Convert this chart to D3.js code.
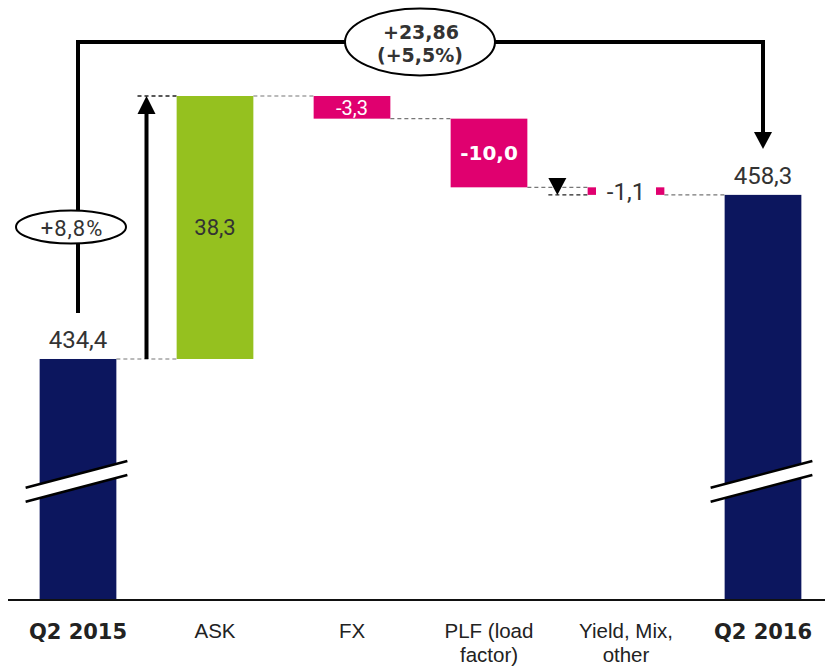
<!DOCTYPE html>
<html><head><meta charset="utf-8">
<script src="https://cdn.jsdelivr.net/npm/d3@7"></script>
<style>body{margin:0;background:#fff}</style>
</head><body><svg id="c" width="825" height="669"></svg>
<script>
const categories = ["Q2 2015","ASK","FX","PLF (load factor)","Yield, Mix, other","Q2 2016"];
const categoryLines = [["Q2 2015"],["ASK"],["FX"],["PLF (load","factor)"],["Yield, Mix,","other"],["Q2 2016"]];
const values = [434.4, 38.3, -3.3, -10.0, -1.1, 458.3];
const kinds = ["total","delta","delta","delta","delta","total"];
const valueLabels = ["434,4","38,3","-3,3","-10,0","-1,1","458,3"];
const totalChangeLabel = ["+23,86","(+5,5%)"];
const askChangeLabel = "+8,8%";
const yDomain = [399.3, 472.7];

const NAVY = "#0c165e", GREEN = "#95c11f", PINK = "#e0006f", TXT = "#333";
const BOLDF = "DejaVu Sans";
const svg = d3.select("#c");
const x = d3.scaleBand().domain(categories).range([9.5, 831.5]).paddingInner(0.44).paddingOuter(0.22);
const y = d3.scaleLinear().domain(yDomain).range([600, 96]);
const bw = x.bandwidth();

let run = 0;
const bars = categories.map((c, i) => {
  let y0, y1;
  if (kinds[i] === "total") { y0 = yDomain[0]; y1 = values[i]; run = values[i]; }
  else { y0 = run; y1 = run + values[i]; run = y1; }
  return {c, i, y0, y1, lo: Math.min(y0, y1), hi: Math.max(y0, y1), v: values[i], kind: kinds[i]};
});
const color = d => d.kind === "total" ? NAVY : (d.v >= 0 ? GREEN : PINK);
const cx = c => x(c) + bw / 2;

// connectors (dashed)
const conn = svg.append("g").attr("stroke", "#777").attr("stroke-width", 1.2).attr("stroke-dasharray", "4,3");
for (let i = 0; i < bars.length - 1; i++) {
  const a = bars[i], b = bars[i + 1];
  conn.append("line").attr("x1", x(a.c) + bw).attr("x2", x(b.c)).attr("y1", y(a.y1)).attr("y2", y(a.y1));
}
const upX = (x(categories[0]) + bw + x(categories[1])) / 2;
const askTop = bars[1].hi;
svg.append("line").attr("x1", upX - 9).attr("x2", x(categories[1])).attr("y1", y(askTop)).attr("y2", y(askTop))
  .attr("stroke", "#222").attr("stroke-width", 1.3).attr("stroke-dasharray", "4,3");
const yb = bars[4];
const triX = x(categories[3]) + bw + 30;
svg.append("line").attr("x1", triX - 9).attr("x2", x(yb.c)).attr("y1", y(yb.lo)).attr("y2", y(yb.lo))
  .attr("stroke", "#222").attr("stroke-width", 1.3).attr("stroke-dasharray", "4,3");

// bars
svg.append("g").selectAll("rect").data(bars).join("rect")
  .attr("x", d => x(d.c)).attr("width", bw)
  .attr("y", d => y(d.hi)).attr("height", d => y(d.lo) - y(d.hi))
  .attr("fill", color);

// small down triangle
svg.append("path").attr("d", `M${triX - 9},${y(yb.lo) - 17} L${triX + 9},${y(yb.lo) - 17} L${triX},${y(yb.lo)} Z`).attr("fill", "#000");

// axis line
const axis = svg.append("g").attr("transform", `translate(0,${y(yDomain[0])})`)
  .call(d3.axisBottom(x).tickSize(0).tickSizeOuter(0).tickFormat(() => ""));
axis.selectAll(".tick").remove();
axis.select(".domain").attr("stroke", "#111").attr("stroke-width", 2).attr("d", "M8,0H825");

// break marks on totals
bars.filter(d => d.kind === "total").forEach(d => {
  const x0 = x(d.c) - 14, x1 = x(d.c) + bw + 11;
  const yc = y(yDomain[0]) - 126, slope = -27 / 103;
  const ya = yc - slope * (cx(d.c) - x0), yb2 = yc + slope * (x1 - cx(d.c));
  const g = svg.append("g");
  g.append("path").attr("d", `M${x0},${ya} L${x1},${yb2} L${x1},${yb2 + 14} L${x0},${ya + 14} Z`).attr("fill", "#fff");
  g.append("line").attr("x1", x0).attr("y1", ya).attr("x2", x1).attr("y2", yb2).attr("stroke", "#000").attr("stroke-width", 2.6);
  g.append("line").attr("x1", x0).attr("y1", ya + 14).attr("x2", x1).attr("y2", yb2 + 14).attr("stroke", "#000").attr("stroke-width", 2.6);
});

// up arrow
svg.append("line").attr("x1", upX).attr("x2", upX).attr("y1", y(bars[0].y1)).attr("y2", y(askTop) + 16)
  .attr("stroke", "#000").attr("stroke-width", 4);
svg.append("path").attr("d", `M${upX - 9},${y(askTop) + 18} L${upX + 9},${y(askTop) + 18} L${upX},${y(askTop)} Z`).attr("fill", "#000");

// top bracket
const lx = cx(categories[0]), rx = cx(categories[5]);
const topY = 42;
svg.append("path").attr("d", `M${lx},313 V${topY} H${rx} V134`).attr("fill", "none").attr("stroke", "#000").attr("stroke-width", 4);
svg.append("path").attr("d", `M${rx - 9},132 L${rx + 9},132 L${rx},149 Z`).attr("fill", "#000");

// ellipses
svg.append("ellipse").attr("cx", 71).attr("cy", 227).attr("rx", 55).attr("ry", 16.5)
  .attr("fill", "#fff").attr("stroke", "#000").attr("stroke-width", 2);
svg.append("text").attr("x", 72).attr("y", 228).attr("dy", "0.36em").attr("text-anchor", "middle")
  .attr("font-family", "Roboto").attr("font-size", 22).attr("letter-spacing", 1).attr("fill", TXT).text(askChangeLabel);
svg.append("ellipse").attr("cx", 420).attr("cy", topY).attr("rx", 75).attr("ry", 33.5)
  .attr("fill", "#fff").attr("stroke", "#000").attr("stroke-width", 2);
svg.append("text").attr("x", 421).attr("y", 32).attr("dy", "0.36em").attr("text-anchor", "middle")
  .attr("font-family", BOLDF).attr("font-weight", 700).attr("font-size", 19).attr("fill", TXT).text(totalChangeLabel[0]);
svg.append("text").attr("x", 420).attr("y", 55).attr("dy", "0.36em").attr("text-anchor", "middle")
  .attr("font-family", BOLDF).attr("font-weight", 700).attr("font-size", 19).attr("fill", TXT).text(totalChangeLabel[1]);

// value labels
const lab = svg.append("g");
bars.forEach(d => {
  const h = y(d.lo) - y(d.hi);
  const my = (y(d.lo) + y(d.hi)) / 2;
  if (d.kind !== "total" && h <= 15) {
    lab.append("rect").attr("x", cx(d.c) - 30).attr("y", my - 6).attr("width", 60).attr("height", 12).attr("fill", "#fff");
  }
  const t = lab.append("text").attr("text-anchor", "middle").attr("x", cx(d.c)).attr("dy", "0.36em")
    .attr("font-family", "Roboto").text(valueLabels[d.i]);
  if (d.kind === "total") {
    t.attr("y", y(d.hi) - 20).attr("font-size", 24).attr("fill", TXT);
  } else if (h > 40) {
    t.attr("y", my).attr("font-size", 22).attr("fill", d.v >= 0 ? TXT : "#fff");
    if (d.v < 0) t.attr("font-family", BOLDF).attr("font-weight", 700).attr("font-size", 20);
  } else if (h > 15) {
    t.attr("y", my).attr("font-size", 20).attr("fill", "#fff");
  } else {
    t.attr("y", my).attr("font-size", 24).attr("fill", TXT);
  }
});

// category labels
categoryLines.forEach((lines, i) => {
  const bold = kinds[i] === "total";
  const t = svg.append("text").attr("text-anchor", "middle")
    .attr("font-family", bold ? BOLDF : "Liberation Sans, Arial, sans-serif")
    .attr("font-weight", bold ? 700 : 400).attr("font-size", bold ? 21 : 20.5).attr("fill", "#222");
  lines.forEach((l, k) => t.append("tspan").attr("x", cx(categories[i])).attr("y", 631 + k * 24).attr("dy", "0.36em").text(l));
});
</script></body></html>
